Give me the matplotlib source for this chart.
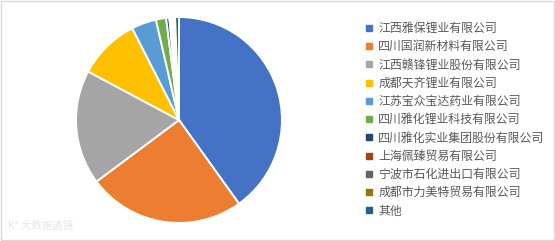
import matplotlib.pyplot as plt
from matplotlib.lines import Line2D

plt.rcParams['font.family'] = ['Noto Sans CJK SC', 'DejaVu Sans']

# Datos (porcentaje estimado de cada empresa)
empresas = ["江西雅保锂业有限公司", "四川国润新材料有限公司", "江西赣锋锂业股份有限公司",
            "成都天齐锂业有限公司", "江苏宝众宝达药业有限公司", "四川雅化锂业科技有限公司",
            "四川雅化实业集团股份有限公司", "上海佩臻贸易有限公司", "宁波市石化进出口有限公司",
            "成都市力美特贸易有限公司", "其他"]
valores = [40.1, 24.7, 18.0, 9.7, 3.9, 1.6, 0.5, 0.3, 0.3, 0.3, 0.6]
colores = ["#4472C4", "#ED7D31", "#A5A5A5", "#FFC000", "#5B9BD5", "#70AD47",
           "#264478", "#9E480E", "#636363", "#997300", "#255E91"]

W, H = 555, 241
fig = plt.figure(figsize=(W / 100, H / 100), dpi=100)
fig.patch.set_facecolor("white")

# Borde del grafico
borde = plt.Rectangle((0.002, 0.004), 0.996, 0.992, transform=fig.transFigure,
                      fill=False, edgecolor="#D9D9D9", linewidth=1.0)
fig.add_artist(borde)

cx, cy, r = 179, 120, 104
ax = fig.add_axes([(cx - r) / W, (H - cy - r) / H, 2 * r / W, 2 * r / H])
ax.pie(valores, colors=colores, startangle=90, counterclock=False,
       wedgeprops=dict(edgecolor="white", linewidth=1.4))
ax.set_xlim(-1.01, 1.01)
ax.set_ylim(-1.01, 1.01)
ax.set_aspect("equal")

handles = [Line2D([], [], marker="s", linestyle="", markersize=4,
                  markerfacecolor=c, markeredgecolor=c) for c in colores]
fig.legend(handles, empresas, loc="upper left", bbox_to_anchor=(359 / W, 1 - 16 / H),
           frameon=False, fontsize=8.6, labelcolor="#595959", handlelength=0.6,
           handletextpad=0.5, labelspacing=0.44, borderpad=0)

# Marca de agua
fig.text(8 / W, 1 - 226 / H, "K° 大数据透镜", fontsize=7.5, color="#E6E6E6", va="center")

fig.savefig("out.png", dpi=100)
